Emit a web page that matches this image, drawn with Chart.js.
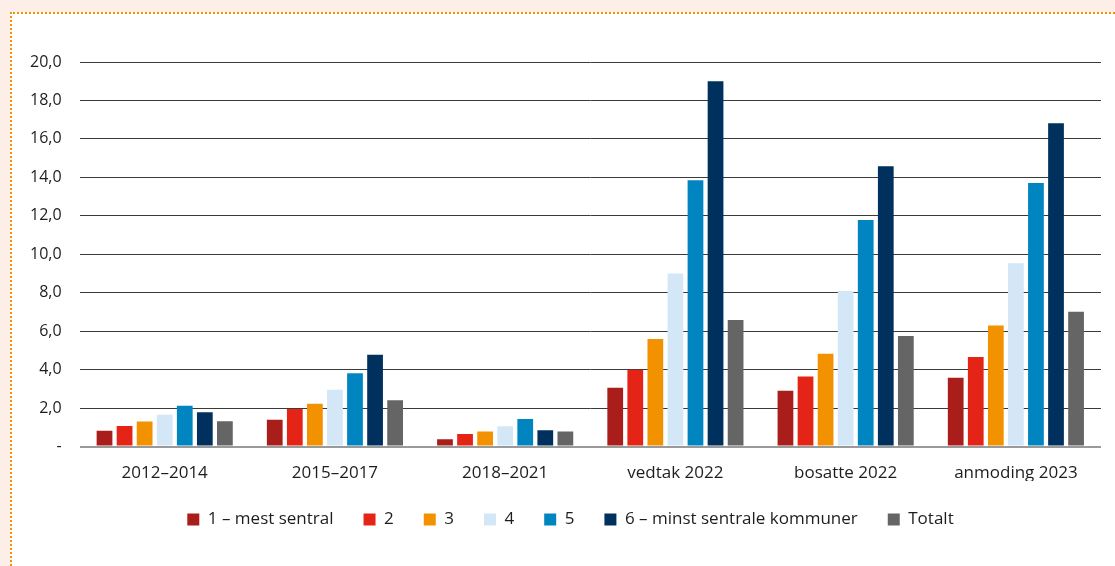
<!DOCTYPE html>
<html>
<head>
<meta charset="utf-8">
<script src="https://cdn.jsdelivr.net/npm/chart.js@4.4.1/dist/chart.umd.min.js"></script>
<style>
    html, body { margin: 0; padding: 0; }
    body { width: 1115px; height: 566px; background: #fdeee8; position: relative; overflow: hidden; }
    .box {
        position: absolute; left: 10px; top: 12px; width: 1105px; height: 554px;
        background: #fff;
        border-top: 2px dotted #f39200; border-left: 2px dotted #f39200;
        box-sizing: border-box;
    }
    .wrap { position: absolute; left: 0; top: 0; width: 1103px; height: 552px; }
</style>
</head>
<body>
<div class="box"><div class="wrap"><canvas id="chart"></canvas></div></div>
<script>
const categories = ['2012–2014', '2015–2017', '2018–2021', 'vedtak 2022', 'bosatte 2022', 'anmoding 2023'];
const seriesNames = ['1 – mest sentral', '2', '3', '4', '5', '6 – minst sentrale kommuner', 'Totalt'];
const seriesColors = ['#a91d1a', '#e32416', '#f39200', '#d3e7f7', '#0085c0', '#00305e', '#656565'];

const s1 = [0.83, 1.40, 0.38, 3.06, 2.91, 3.58];
const s2 = [1.07, 1.96, 0.66, 4.00, 3.64, 4.66];
const s3 = [1.30, 2.23, 0.78, 5.59, 4.83, 6.30];
const s4 = [1.66, 2.96, 1.06, 9.00, 8.09, 9.54];
const s5 = [2.13, 3.82, 1.44, 13.85, 11.79, 13.71];
const s6 = [1.78, 4.78, 0.85, 19.00, 14.58, 16.81];
const totalt = [1.32, 2.41, 0.79, 6.58, 5.75, 7.01];

const yTicks = [0, 2, 4, 6, 8, 10, 12, 14, 16, 18, 20];

const textColor = '#1d1d1b';
const yFont = { family: 'Open Sans', size: 16 };
const xFont = { family: 'Open Sans', size: 17 };

// legend sits a bit right of centre in the original
const legendShift = {
    id: 'legendShift',
    afterLayout(chart) {
        chart.legend.left += 14;
        chart.legend.right += 14;
    }
};

const ctx = document.getElementById('chart').getContext('2d');
new Chart(ctx, {
    type: 'bar',
    data: {
        labels: categories,
        datasets: [s1, s2, s3, s4, s5, s6, totalt].map((d, i) => ({
            label: seriesNames[i],
            data: d,
            backgroundColor: seriesColors[i],
            borderWidth: 0,
            categoryPercentage: 0.825,
            barPercentage: 0.785
        }))
    },
    options: {
        responsive: true, maintainAspectRatio: false,
        animation: false,
        layout: { padding: { top: 48, right: 14, left: 0, bottom: 28 } },
        plugins: {
            tooltip: { enabled: false },
            legend: {
                position: 'bottom',
                labels: {
                    color: textColor, font: xFont,
                    boxWidth: 12, boxHeight: 12, padding: 30
                }
            }
        },
        scales: {
            x: {
                grid: { display: false },
                border: { display: false },
                afterFit: axis => { axis.height -= 10; },
                ticks: { color: textColor, font: xFont, padding: 8 }
            },
            y: {
                min: 0, max: 20,
                afterBuildTicks: axis => { axis.ticks = yTicks.map(v => ({ value: v })); },
                border: { display: false },
                grid: {
                    drawTicks: false,
                    color: c => c.tick.value === 0 ? '#9a9a9a' : '#3a3a3a',
                    lineWidth: c => c.tick.value === 0 ? 2 : 1
                },
                ticks: {
                    color: textColor, font: yFont, padding: 18,
                    callback: v => v === 0 ? '-' : v.toFixed(1).replace('.', ',')
                }
            }
        }
    },
    plugins: [legendShift]
});
</script>
</body>
</html>
